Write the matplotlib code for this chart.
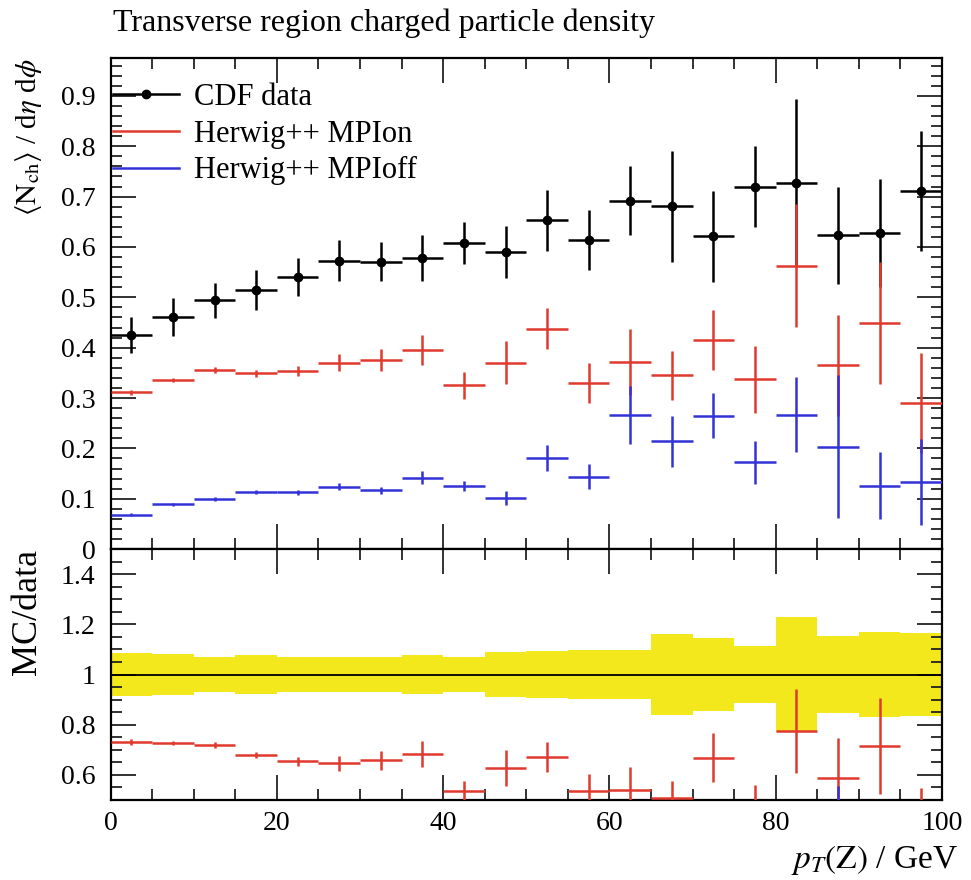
import matplotlib
matplotlib.use('Agg')
import matplotlib.pyplot as plt
from matplotlib.lines import Line2D
import matplotlib.ticker as mtick
import numpy as np

# ---Data---
pt_edges = [0, 5, 10, 15, 20, 25, 30, 35, 40, 45, 50, 55, 60, 65, 70, 75, 80, 85, 90, 95, 100]
pt_centers = [2.5, 7.5, 12.5, 17.5, 22.5, 27.5, 32.5, 37.5, 42.5, 47.5,
              52.5, 57.5, 62.5, 67.5, 72.5, 77.5, 82.5, 87.5, 92.5, 97.5]

cdf = [0.425, 0.461, 0.494, 0.514, 0.540, 0.573, 0.571, 0.578, 0.608, 0.590,
       0.653, 0.614, 0.692, 0.681, 0.621, 0.720, 0.727, 0.623, 0.628, 0.711]
cdf_err = [0.036, 0.037, 0.035, 0.040, 0.038, 0.040, 0.039, 0.046, 0.042, 0.052,
           0.061, 0.059, 0.068, 0.110, 0.090, 0.081, 0.166, 0.096, 0.107, 0.119]

mpi_on = [0.311, 0.335, 0.356, 0.349, 0.353, 0.370, 0.376, 0.395, 0.325, 0.370,
          0.438, 0.330, 0.372, 0.345, 0.415, 0.337, 0.563, 0.365, 0.449, 0.290]
mpi_on_err = [0.005, 0.004, 0.006, 0.007, 0.010, 0.017, 0.022, 0.030, 0.026, 0.043,
              0.040, 0.040, 0.065, 0.048, 0.060, 0.066, 0.122, 0.100, 0.121, 0.100]

mpi_off = [0.068, 0.089, 0.100, 0.113, 0.113, 0.124, 0.117, 0.142, 0.126, 0.102,
           0.181, 0.144, 0.266, 0.214, 0.265, 0.172, 0.267, 0.203, 0.126, 0.133]
mpi_off_err = [0.003, 0.003, 0.004, 0.004, 0.005, 0.007, 0.007, 0.013, 0.010, 0.014,
               0.025, 0.025, 0.058, 0.050, 0.045, 0.043, 0.075, 0.142, 0.067, 0.086]

plt.rcParams['font.family'] = ['Liberation Serif', 'DejaVu Serif']
plt.rcParams['mathtext.fontset'] = 'stix'

RED = '#e0392e'
BLUE = '#3232d6'
YELLOW = '#f3e81c'

x = np.array(pt_centers)
edges = np.array(pt_edges)
xerr = np.diff(edges) / 2
data = np.array(cdf)
data_err = np.array(cdf_err)

fig = plt.figure(figsize=(9.71, 8.8), dpi=100)
ax1 = fig.add_axes([0.114, 0.376, 0.856, 0.558])
ax2 = fig.add_axes([0.114, 0.091, 0.856, 0.285], sharex=ax1)

#---Main panel---
ax1.errorbar(x, mpi_on, xerr=xerr, yerr=mpi_on_err, fmt='none', ecolor=RED, elinewidth=1.8, capsize=0, zorder=3)
ax1.errorbar(x, mpi_off, xerr=xerr, yerr=mpi_off_err, fmt='none', ecolor=BLUE, elinewidth=1.8, capsize=0, zorder=3)
ax1.errorbar(x, data, xerr=xerr, yerr=data_err, fmt='o', color='black', ms=6,
             elinewidth=1.8, capsize=0, zorder=2)

ax1.set_xlim(0, 100)
ax1.set_ylim(0, 0.975)
ax1.yaxis.set_major_locator(mtick.MultipleLocator(0.1))
ax1.yaxis.set_minor_locator(mtick.MultipleLocator(0.02))
ax1.yaxis.set_major_formatter(mtick.FuncFormatter(lambda v, p: '0' if abs(v) < 1e-9 else f'{v:.1f}'))
ax1.tick_params(labelbottom=False)

handles = [Line2D([], [], color='black', marker='o', ms=6, lw=1.8),
           Line2D([], [], color=RED, lw=1.8),
           Line2D([], [], color=BLUE, lw=1.8)]
ax1.legend(handles, ['CDF data', 'Herwig++ MPIon', 'Herwig++ MPIoff'],
           loc='upper left', bbox_to_anchor=(0.001, 0.952), frameon=False,
           fontsize=22, handlelength=2.15, handletextpad=0.5, labelspacing=0.25,
           borderaxespad=0.0, borderpad=0.05)

ax1.set_ylabel(r'$\langle \mathrm{N}_{\mathrm{ch}}\rangle$ / d$\eta$ d$\phi$', fontsize=21)
ax1.yaxis.set_label_coords(-0.08, 1.0)
ax1.yaxis.label.set_ha('right')

#---Ratio panel---
band_lo = np.append(1 - data_err / data, 1 - data_err[-1] / data[-1])
band_hi = np.append(1 + data_err / data, 1 + data_err[-1] / data[-1])
ax2.fill_between(edges, band_lo, band_hi, step='post', color=YELLOW, lw=0, zorder=1)
ax2.axhline(1.0, color='black', lw=1.3, zorder=2)
ax2.errorbar(x, np.array(mpi_on) / data, xerr=xerr, yerr=np.array(mpi_on_err) / data,
             fmt='none', ecolor=RED, elinewidth=1.8, capsize=0, zorder=3)
ax2.errorbar(x, np.array(mpi_off) / data, xerr=xerr, yerr=np.array(mpi_off_err) / data,
             fmt='none', ecolor=BLUE, elinewidth=1.8, capsize=0, zorder=3)

ax2.set_ylim(0.5, 1.5)
ax2.yaxis.set_major_locator(mtick.MultipleLocator(0.2))
ax2.yaxis.set_minor_locator(mtick.MultipleLocator(0.05))
ax2.yaxis.set_major_formatter(mtick.FuncFormatter(lambda v, p: f'{v:g}'))
ax2.xaxis.set_major_locator(mtick.MultipleLocator(20))
ax2.xaxis.set_minor_locator(mtick.MultipleLocator(5))
ax2.set_ylabel('MC/data', fontsize=26)
ax2.yaxis.set_label_coords(-0.08, 1.0)
ax2.yaxis.label.set_ha('right')
ax2.set_xlabel(r'$p_T(\mathrm{Z})$ / GeV', fontsize=24)
ax2.xaxis.set_label_coords(1.02, -0.17)
ax2.xaxis.label.set_ha('right')

for ax in (ax1, ax2):
    ax.tick_params(which='both', direction='in', top=True, right=True, width=1.3,
                   labelsize=20, color='#222222')
    ax.tick_params(which='major', length=18)
    ax.tick_params(which='minor', length=8)
    ax.tick_params(axis='y', pad=11)
    ax.tick_params(axis='x', pad=8)
    for s in ax.spines.values():
        s.set_linewidth(1.6)

fig.text(0.116, 1 - 23 / 880, 'Transverse region charged particle density', fontsize=23, va='center', ha='left')

plt.savefig('out.png', dpi=100)
